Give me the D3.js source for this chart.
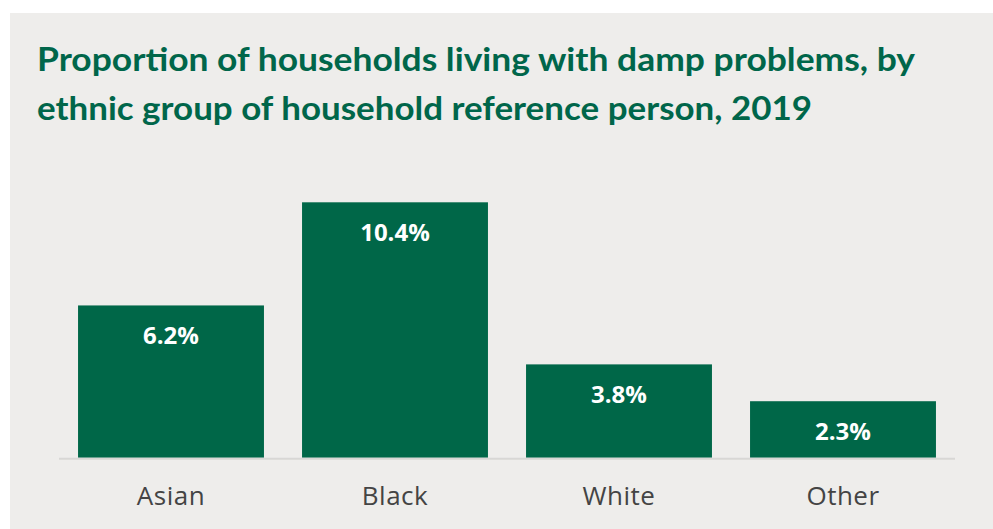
<!DOCTYPE html>
<html>
<head>
<meta charset="utf-8">
<script src="https://cdn.jsdelivr.net/npm/d3@7"></script>
<style>
  html, body { margin: 0; padding: 0; background: #ffffff; }
  svg { display: block; }
</style>
</head>
<body>
<svg id="chart" width="993" height="529"></svg>
<script>
const categories = ["Asian", "Black", "White", "Other"];
const values = [6.2, 10.4, 3.8, 2.3];
const valueLabels = ["6.2%", "10.4%", "3.8%", "2.3%"];
const titleLines = [
  "Proportion of households living with damp problems, by",
  "ethnic group of household reference person, 2019"
];
const titleWidths = [878, 775];

const green = "#006748";
const svg = d3.select("#chart");

svg.append("rect")
  .attr("x", 10).attr("y", 13)
  .attr("width", 983).attr("height", 516)
  .attr("fill", "#eeedeb");

svg.append("g").selectAll("text")
  .data(titleLines)
  .join("text")
  .attr("x", 37)
  .attr("y", (d, i) => 71 + i * 49)
  .attr("fill", "#00664a")
  .attr("font-family", "Lato, sans-serif")
  .attr("font-weight", 700)
  .attr("font-size", 33)
  .attr("textLength", (d, i) => titleWidths[i])
  .attr("lengthAdjust", "spacingAndGlyphs")
  .text(d => d);

const x = d3.scaleBand()
  .domain(categories)
  .range([59, 955])
  .paddingInner(0.17)
  .paddingOuter(0.085);

const baseY = 457.7;
const y = d3.scaleLinear()
  .domain([0, 10.4])
  .range([baseY, 202.3]);

svg.append("g").selectAll("rect")
  .data(values)
  .join("rect")
  .attr("x", (d, i) => x(categories[i]))
  .attr("width", x.bandwidth())
  .attr("y", d => y(d))
  .attr("height", d => y(0) - y(d))
  .attr("fill", green);

svg.append("line")
  .attr("x1", 59).attr("x2", 955)
  .attr("y1", baseY + 1).attr("y2", baseY + 1)
  .attr("stroke", "#d8d7d5")
  .attr("stroke-width", 2);

svg.append("g").selectAll("text")
  .data(values)
  .join("text")
  .attr("x", (d, i) => x(categories[i]) + x.bandwidth() / 2)
  .attr("y", d => y(d) + 39)
  .attr("text-anchor", "middle")
  .attr("fill", "#ffffff")
  .attr("font-family", "'Open Sans', sans-serif")
  .attr("font-weight", 700)
  .attr("font-size", 24)
  .text((d, i) => valueLabels[i]);

const xAxis = d3.axisBottom(x).tickSize(0).tickPadding(0);
const ax = svg.append("g")
  .attr("transform", `translate(0, ${baseY})`)
  .call(xAxis);
ax.select(".domain").remove();
ax.selectAll("text")
  .attr("dy", 0)
  .attr("y", 47)
  .attr("fill", "#444444")
  .attr("font-family", "'Open Sans', sans-serif")
  .attr("font-size", 26)
  .attr("letter-spacing", 0.5);
</script>
</body>
</html>
